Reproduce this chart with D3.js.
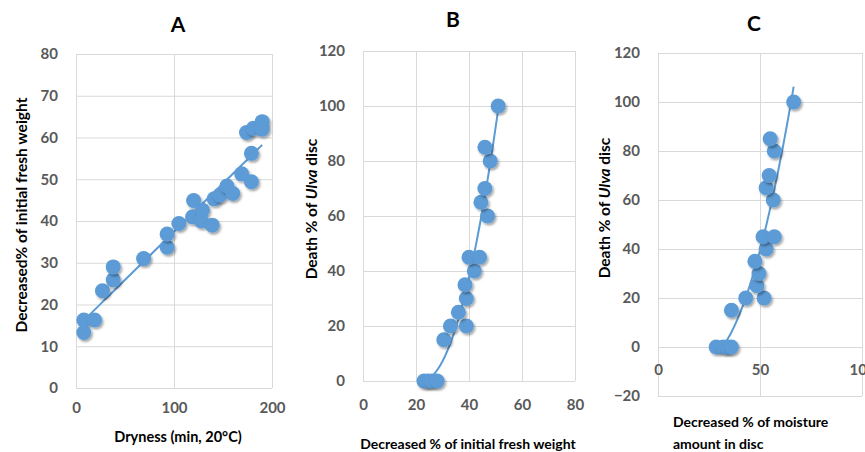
<!DOCTYPE html>
<html>
<head>
<meta charset="utf-8">
<script src="https://cdn.jsdelivr.net/npm/d3@7"></script>
<style>
  body { margin: 0; background: #fff; }
  svg text { font-family: Lato, "Open Sans", sans-serif; }
</style>
</head>
<body>
<svg id="chart" width="865" height="452"></svg>
<script>
'use strict';

/* Data */

// A: dryness time vs weight loss
var aDryness = [8, 19, 8, 27, 38, 38, 69, 93, 93, 105, 120, 119, 129, 128, 139, 141, 147, 154, 160, 169, 179, 179, 174, 181, 190, 190];
var aWeightLoss = [16.3, 16.3, 13.3, 23.3, 25.9, 29, 31, 33.7, 36.9, 39.4, 44.9, 41, 42.6, 40, 39, 45.3, 46.2, 48.4, 46.6, 51.3, 49.4, 56.2, 61.2, 62.2, 63.8, 62];

// B: weight loss vs death %
var bWeightLoss = [23, 24.5, 26, 28, 30.5, 33, 39, 36, 39, 38.5, 42, 40, 44, 47, 44.5, 46, 48, 46, 51];
var bDeath = [0, 0, 0, 0, 15, 20, 20, 25, 30, 35, 40, 45, 45, 60, 65, 70, 80, 85, 100];

// C: moisture loss vs death %
var cMoistureLoss = [28.5, 32, 34, 36, 36, 43, 52, 48.5, 49.5, 47.5, 53, 51.5, 57, 56.5, 53, 54.5, 57, 55, 66.5];
var cDeath = [0, 0, 0, 0, 15, 20, 20, 25, 30, 35, 40, 45, 45, 60, 65, 70, 80, 85, 100];

var xTicksA = [0, 100, 200], yTicksA = d3.range(0, 81, 10);
var xTicksB = d3.range(0, 81, 20), yTicksB = d3.range(0, 121, 20);
var xTicksC = [0, 50, 100], yTicksC = d3.range(-20, 121, 20);

var blue = '#5b9bd5', grid = '#d9d9d9', tickColor = '#595959';

var svg = d3.select('#chart');

svg.append('defs').append('filter')
    .attr('id', 'shadow')
    .attr('x', '-50%').attr('y', '-50%').attr('width', '200%').attr('height', '200%')
  .append('feDropShadow')
    .attr('dx', 1.5).attr('dy', 2).attr('stdDeviation', 1.2)
    .attr('flood-color', '#000').attr('flood-opacity', 0.35);

// least squares polynomial (degree 1 or 2), like an Excel trendline
function polyFit(xs, ys, deg) {
  var n = deg + 1, m = [], i, j, k;
  for (i = 0; i < n; i++) {
    m.push([]);
    for (j = 0; j <= n; j++) m[i].push(0);
  }
  xs.forEach(function(x, p) {
    for (i = 0; i < n; i++) {
      for (j = 0; j < n; j++) m[i][j] += Math.pow(x, i + j);
      m[i][n] += ys[p] * Math.pow(x, i);
    }
  });
  for (i = 0; i < n; i++) {
    for (k = i + 1; k < n; k++) {
      var f = m[k][i] / m[i][i];
      for (j = i; j <= n; j++) m[k][j] -= f * m[i][j];
    }
  }
  var c = new Array(n);
  for (i = n - 1; i >= 0; i--) {
    var s = m[i][n];
    for (j = i + 1; j < n; j++) s -= m[i][j] * c[j];
    c[i] = s / m[i][i];
  }
  return function(x) {
    return c.reduce(function(acc, ci, p) { return acc + ci * Math.pow(x, p); }, 0);
  };
}

function panel(cfg) {
  var x = d3.scaleLinear().domain(cfg.xDomain).range([cfg.left, cfg.right]),
      y = d3.scaleLinear().domain(cfg.yDomain).range([cfg.bottom, cfg.top]),
      g = svg.append('g'),
      w = cfg.right - cfg.left,
      h = cfg.bottom - cfg.top;

  // gridlines
  g.append('g')
    .attr('transform', 'translate(0,' + cfg.bottom + ')')
    .call(d3.axisBottom(x).tickValues(cfg.xTicks).tickSize(-h).tickFormat(''))
    .call(function(s) { s.select('.domain').remove(); s.selectAll('line').attr('stroke', grid); });
  g.append('g')
    .attr('transform', 'translate(' + cfg.left + ',0)')
    .call(d3.axisLeft(y).tickValues(cfg.yTicks).tickSize(-w).tickFormat(''))
    .call(function(s) { s.select('.domain').remove(); s.selectAll('line').attr('stroke', grid); });

  // tick labels
  g.append('g')
    .attr('transform', 'translate(0,' + y(cfg.xAxisAt) + ')')
    .call(d3.axisBottom(x).tickValues(cfg.xTicks).tickSize(0).tickPadding(cfg.xPad))
    .call(function(s) { s.select('.domain').remove(); })
    .selectAll('text')
      .attr('fill', tickColor).attr('font-size', 15).attr('font-weight', 'bold')
      .style('font-family', 'Lato, sans-serif');
  g.append('g')
    .attr('transform', 'translate(' + cfg.left + ',0)')
    .call(d3.axisLeft(y).tickValues(cfg.yTicks).tickSize(0).tickPadding(18))
    .call(function(s) { s.select('.domain').remove(); })
    .selectAll('text')
      .attr('fill', tickColor).attr('font-size', 15).attr('font-weight', 'bold')
      .style('font-family', 'Lato, sans-serif');

  // trendline
  var fit = polyFit(cfg.xs, cfg.ys, cfg.degree),
      x0 = d3.min(cfg.xs), x1 = d3.max(cfg.xs),
      steps = d3.range(0, 101).map(function(i) { return x0 + (x1 - x0) * i / 100; });
  g.append('path')
    .datum(steps)
    .attr('fill', 'none')
    .attr('stroke', blue)
    .attr('stroke-width', 2)
    .attr('d', d3.line().x(function(d) { return x(d); }).y(function(d) { return y(fit(d)); }));

  // points
  g.selectAll('circle.pt').data(cfg.xs)
    .enter().append('circle')
      .attr('class', 'pt')
      .attr('cx', function(d) { return x(d); })
      .attr('cy', function(d, i) { return y(cfg.ys[i]); })
      .attr('r', 7.5)
      .attr('fill', blue)
      .attr('filter', 'url(#shadow)');

  // panel letter
  g.append('text')
    .attr('x', cfg.titleX).attr('y', cfg.titleY)
    .attr('text-anchor', 'middle')
    .attr('font-size', 21).attr('font-weight', 'bold')
    .text(cfg.title);

  // y title
  var yt = g.append('text')
    .attr('transform', 'translate(' + cfg.yTitleX + ',' + cfg.yTitleY + ') rotate(-90)')
    .attr('text-anchor', 'middle')
    .attr('font-size', 15.5).attr('font-weight', 'bold');
  cfg.yTitle.forEach(function(part) {
    yt.append('tspan').attr('font-style', part.italic ? 'italic' : null).text(part.t);
  });

  // x title (one or more lines)
  cfg.xTitle.forEach(function(line, i) {
    g.append('text')
      .attr('x', cfg.xTitleX).attr('y', cfg.xTitleY + i * 22)
      .attr('text-anchor', cfg.xTitleAnchor)
      .attr('font-size', cfg.xTitleSize).attr('font-weight', 'bold')
      .text(line);
  });
}

panel({
  left: 76, right: 272, top: 54, bottom: 388,
  xDomain: [0, 200], yDomain: [0, 80], xTicks: xTicksA, yTicks: yTicksA,
  xAxisAt: 0, xPad: 14,
  xs: aDryness, ys: aWeightLoss, degree: 1,
  title: 'A', titleX: 178, titleY: 32,
  yTitle: [{t: 'Decreased% of initial fresh weight'}], yTitleX: 27, yTitleY: 215,
  xTitle: ['Dryness  (min, 20°C)'], xTitleX: 178, xTitleY: 442, xTitleAnchor: 'middle', xTitleSize: 14.5
});

panel({
  left: 363, right: 575, top: 51, bottom: 381,
  xDomain: [0, 80], yDomain: [0, 120], xTicks: xTicksB, yTicks: yTicksB,
  xAxisAt: 0, xPad: 18,
  xs: bWeightLoss, ys: bDeath, degree: 2,
  title: 'B', titleX: 453, titleY: 27,
  yTitle: [{t: 'Death % of '}, {t: 'Ulva', italic: true}, {t: ' disc'}], yTitleX: 317, yTitleY: 209,
  xTitle: ['Decreased % of initial  fresh weight'], xTitleX: 468, xTitleY: 449, xTitleAnchor: 'middle', xTitleSize: 14
});

panel({
  left: 658, right: 862, top: 53, bottom: 396,
  xDomain: [0, 100], yDomain: [-20, 120], xTicks: xTicksC, yTicks: yTicksC,
  xAxisAt: 0, xPad: 17,
  xs: cMoistureLoss, ys: cDeath, degree: 2,
  title: 'C', titleX: 754, titleY: 31,
  yTitle: [{t: 'Death % of '}, {t: 'Ulva', italic: true}, {t: ' disc'}], yTitleX: 610, yTitleY: 208,
  xTitle: ['Decreased % of moisture', 'amount in disc'], xTitleX: 673, xTitleY: 427, xTitleAnchor: 'start', xTitleSize: 14
});
</script>
</body>
</html>
